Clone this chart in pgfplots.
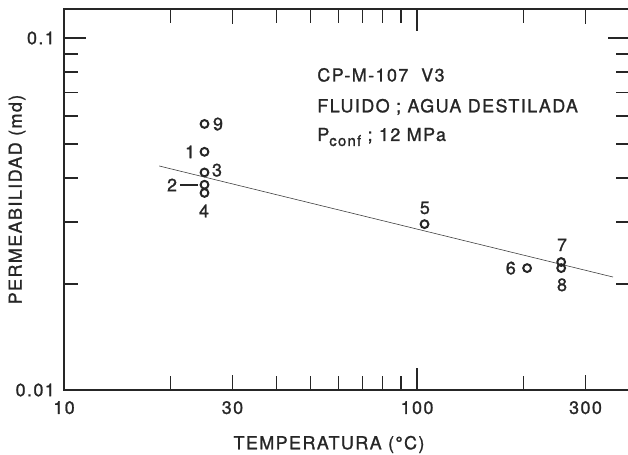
\documentclass[border=0pt]{standalone}
\usepackage{pgfplots}
\pgfplotsset{compat=1.18}
\usepackage{fontspec}
\setmainfont{TeX Gyre Heros}[LetterSpace=8, FakeBold=1.2]
\newcommand{\lf}{\fontsize{18}{22}\selectfont}
\begin{document}
\lf
\begin{tikzpicture}[every node/.style={font=\lf, text=black!85}]
\begin{axis}[
  xmode=log, ymode=log,
  scale only axis, width=565.6bp, height=381bp,
  xmin=10, xmax=400, ymin=0.01, ymax=0.1209,
  axis line style={line width=1.7bp, black!85},
  every tick/.style={line width=1.3bp, black!85},
  major tick length=22bp, minor tick length=14bp,
  tick align=inside,
  xtick={10,100}, xticklabels={10,100},
  minor xtick={20,30,40,50,60,70,80,90,200,300},
  extra x ticks={30,300}, extra x tick labels={30,300},
  extra x tick style={major tick length=15bp},
  ytick={0.01,0.1}, yticklabels={0.01,0.1},
  minor ytick={0.02,0.03,0.04,0.05,0.06,0.07,0.08,0.09},
  xticklabel style={font=\lf, yshift=-5bp},
  yticklabel style={font=\lf, xshift=-3bp},
  xlabel={TEMPERATURA (°C)},
  ylabel={PERMEABILIDAD (md)},
  xlabel style={at={(axis description cs:0.4685,-0.143)}, anchor=center, font=\lf},
  ylabel style={at={(axis description cs:-0.083,0.5)}, anchor=center, font=\lf},
  clip=false,
]
\addplot[only marks, mark=o, mark size=3.9bp, mark options={line width=2bp, black!85}] coordinates {
  (25,0.0475) (25,0.0383) (25,0.0415) (25,0.0363) (105,0.0296)
  (205,0.0222) (256,0.0231) (256,0.0222) (25,0.0570)
};
\addplot[line width=0.6bp, black!75] coordinates {(18.6,0.0433) (359,0.02094)};
\node[anchor=center] at (axis description cs:0.2723,0.698) {9};
\node[anchor=center] at (axis description cs:0.2228,0.625) {1};
\node[anchor=center] at (axis description cs:0.2705,0.577) {3};
\node[anchor=center] at (axis description cs:0.191,0.538) {2};
\node[anchor=center] at (axis description cs:0.2475,0.470) {4};
\node[anchor=center] at (axis description cs:0.638,0.478) {5};
\node[anchor=center] at (axis description cs:0.790,0.320) {6};
\node[anchor=center] at (axis description cs:0.8805,0.381) {7};
\node[anchor=center] at (axis description cs:0.8805,0.276) {8};
\draw[line width=1.3bp, black!85] (axis description cs:0.205,0.538) -- (axis description cs:0.237,0.538);
\node[anchor=west] at (axis description cs:0.437,0.827) {CP-M-107\ \ V3};
\node[anchor=west] at (axis description cs:0.437,0.743) {FLUIDO ; AGUA DESTILADA};
\node[anchor=west] at (axis description cs:0.437,0.664) {P\raisebox{-5bp}{\fontsize{15}{18}\selectfont conf} ; 12 MPa};
\end{axis}
\pgfresetboundingbox
\path[use as bounding box] ([shift={(-64bp,-65bp)}]current axis.south west) rectangle ([shift={(-1.6bp,9bp)}]current axis.north east);
\end{tikzpicture}
\end{document}
